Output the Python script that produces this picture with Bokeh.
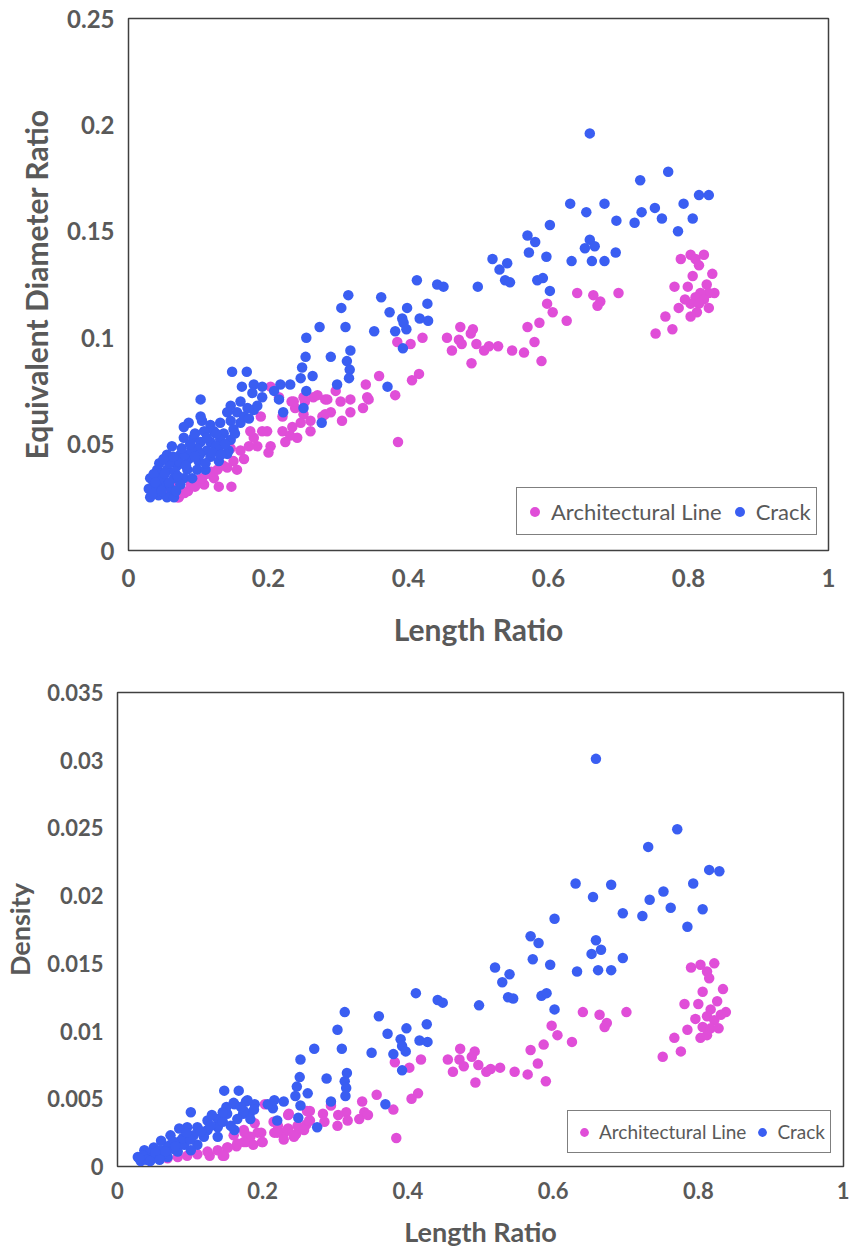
from bokeh.plotting import figure
from bokeh.models import FixedTicker, CustomJSTickFormatter, Range1d, Legend
from bokeh.embed import file_html
from bokeh.resources import INLINE

# ---------------- data: Equivalent Diameter Ratio vs Length Ratio ----------------
arch_len_top = [0.789,0.803,0.810,0.815,0.822,0.834,0.806,0.826,0.780,0.799,0.837,0.829,0.817,0.810,0.822,0.803,0.815,0.829,0.812,0.803,0.795,0.786,0.767,0.777,0.753,
0.641,0.664,0.674,0.670,0.700,0.598,0.606,0.587,0.570,0.626,0.580,0.548,0.565,0.590,0.528,0.515,0.508,0.497,0.492,0.489,0.474,0.476,0.490,0.455,0.472,0.462,
0.420,0.403,0.384,0.415,0.405,0.358,0.339,0.381,0.341,0.343,0.335,0.317,0.303,0.317,0.305,0.289,0.277,0.385,0.296,0.281,0.264,0.252,0.233,0.238,0.250,0.260,
0.260,0.246,0.234,0.220,0.224,0.220,0.203,0.200,0.184,0.179,0.198,0.189,0.203,0.215,0.236,0.250,0.270,0.284,0.281,0.241,0.231,0.129,0.147,0.072,0.131,0.146,
0.160,0.174,0.191,0.172,0.165,0.150,0.141,0.155,0.127,0.112,0.122,0.098,0.108,0.089,0.074,0.070,0.060,0.050,
0.085,0.095,0.105,0.118,0.135,0.080,0.066]
arch_diam_top = [0.137,0.139,0.137,0.134,0.139,0.130,0.129,0.125,0.124,0.124,0.121,0.121,0.121,0.119,0.118,0.116,0.116,0.114,0.112,0.110,0.118,0.114,0.110,0.104,0.102,
0.121,0.120,0.117,0.115,0.121,0.116,0.112,0.107,0.105,0.108,0.098,0.094,0.093,0.089,0.096,0.096,0.094,0.097,0.104,0.102,0.105,0.097,0.088,0.100,0.099,0.094,
0.100,0.097,0.098,0.083,0.080,0.082,0.078,0.073,0.072,0.071,0.067,0.071,0.070,0.065,0.061,0.065,0.063,0.051,0.075,0.071,0.072,0.070,0.070,0.067,0.064,0.061,
0.056,0.060,0.058,0.056,0.051,0.063,0.049,0.046,0.049,0.053,0.056,0.063,0.077,0.072,0.070,0.072,0.073,0.071,0.064,0.053,0.054,0.030,0.030,0.025,0.050,0.048,
0.047,0.056,0.056,0.049,0.043,0.042,0.039,0.038,0.038,0.036,0.034,0.033,0.031,0.031,0.029,0.025,0.026,0.027,
0.028,0.030,0.034,0.037,0.040,0.027,0.030]

crack_len_top = [0.659,0.771,0.731,0.815,0.829,0.631,0.680,0.793,0.654,0.752,0.733,0.762,0.697,0.723,0.806,0.785,0.602,0.570,0.581,0.572,0.597,0.659,0.652,0.666,
0.696,0.633,0.662,0.680,0.520,0.541,0.530,0.538,0.545,0.584,0.592,0.602,0.499,0.314,0.361,0.412,0.441,0.450,0.427,0.304,0.373,0.398,0.391,0.393,0.397,0.416,
0.428,0.381,0.351,0.392,0.310,0.273,0.254,0.317,0.312,0.316,0.315,0.289,0.253,0.248,0.263,0.246,0.254,0.298,0.370,0.250,0.276,0.221,0.215,0.208,0.217,0.231,
0.148,0.169,0.162,0.179,0.191,0.191,0.177,0.103,0.146,0.160,0.170,0.155,0.141,0.179,0.184,0.086,0.105,0.117,0.131,0.146,0.150,0.122,0.136,0.079,0.093,0.103,
0.117,0.131,0.146,0.143,0.129,0.112,0.098,0.062,0.055,0.074,0.086,0.100,0.117,0.129,0.070,0.084,0.098,0.110,0.041,0.055,0.048,0.065,0.079,0.091,0.031,0.036,
0.050,0.029,0.043,0.060,0.074,0.031,0.055,0.065,0.060,0.103,0.141,0.079,
0.040,0.045,0.052,0.058,0.066,0.072,0.080,0.090,0.095,0.108,0.112,0.125,0.138,0.152,0.160,0.165,0.172,0.035,0.047,0.068,0.058,0.064,0.076,0.088,0.102,0.120,
0.132,0.036,0.044,0.050,0.038,0.070,0.082,0.095,0.110,0.125]
crack_diam_top = [0.196,0.178,0.174,0.167,0.167,0.163,0.163,0.163,0.159,0.161,0.159,0.156,0.155,0.154,0.156,0.150,0.153,0.148,0.145,0.140,0.138,0.146,0.142,0.143,
0.140,0.136,0.136,0.136,0.137,0.135,0.132,0.127,0.126,0.127,0.128,0.122,0.124,0.120,0.119,0.127,0.125,0.124,0.116,0.114,0.112,0.114,0.109,0.107,0.104,0.109,
0.108,0.103,0.103,0.095,0.105,0.105,0.100,0.094,0.089,0.085,0.081,0.091,0.091,0.086,0.082,0.081,0.075,0.078,0.077,0.067,0.060,0.065,0.071,0.075,0.078,0.078,
0.084,0.084,0.077,0.078,0.077,0.072,0.074,0.071,0.068,0.070,0.067,0.065,0.065,0.066,0.068,0.060,0.061,0.059,0.060,0.061,0.057,0.056,0.055,0.053,0.053,0.051,
0.051,0.052,0.052,0.047,0.047,0.047,0.048,0.049,0.045,0.045,0.043,0.042,0.044,0.042,0.040,0.038,0.038,0.038,0.038,0.038,0.034,0.034,0.034,0.034,0.034,0.031,
0.030,0.029,0.026,0.029,0.031,0.025,0.025,0.025,0.0415,0.063,0.0454,0.058,
0.030,0.034,0.036,0.032,0.037,0.042,0.045,0.047,0.055,0.056,0.053,0.049,0.050,0.055,0.060,0.063,0.062,0.027,0.028,0.028,0.041,0.044,0.048,0.050,0.045,0.046,
0.045,0.036,0.041,0.043,0.032,0.035,0.040,0.044,0.041,0.055]

# ---------------- data: Density vs Length Ratio ----------------
arch_len_bot = [0.790,0.803,0.812,0.822,0.815,0.834,0.806,0.826,0.781,0.800,0.838,0.831,0.817,0.812,0.822,0.796,0.806,0.817,0.828,0.785,0.767,0.803,0.812,0.751,0.776,
0.641,0.664,0.674,0.671,0.701,0.598,0.606,0.626,0.587,0.569,0.579,0.590,0.565,0.547,0.527,0.514,0.508,0.497,0.493,0.472,0.492,0.488,0.455,0.471,0.477,0.462,
0.418,0.402,0.382,0.414,0.405,0.380,0.384,0.357,0.337,0.340,0.333,0.345,0.315,0.317,0.304,0.303,0.294,0.283,0.285,0.265,0.265,0.260,0.235,0.235,0.221,0.216,
0.230,0.246,0.203,0.189,0.198,0.200,0.175,0.177,0.187,0.164,0.152,0.145,0.127,0.193,0.199,0.183,0.174,0.165,0.151,0.138,0.147,0.124,0.110,0.096,0.083,0.069,
0.174,0.160,0.215,0.236,0.220,0.234,0.248,0.261,0.264,0.257,0.243,0.229]
arch_dens_bot = [0.0147,0.0149,0.0144,0.0150,0.0139,0.0131,0.0129,0.0122,0.0120,0.0120,0.0114,0.0112,0.0116,0.0111,0.0108,0.0109,0.0103,0.0102,0.0102,0.0101,0.0095,0.0095,0.0097,0.0081,0.0085,
0.0114,0.0112,0.0106,0.0103,0.0114,0.0104,0.0097,0.0092,0.0090,0.0086,0.0076,0.0063,0.0068,0.0070,0.0073,0.0072,0.0070,0.0075,0.0062,0.0087,0.0085,0.0081,0.0079,0.0079,0.0074,0.0070,
0.0079,0.0073,0.0077,0.0054,0.0050,0.0042,0.0021,0.0053,0.0048,0.0040,0.0035,0.0038,0.0040,0.0034,0.0038,0.0030,0.0045,0.0039,0.0033,0.0041,0.0034,0.0031,0.0038,0.0028,0.0030,0.0025,
0.0025,0.0024,0.0046,0.0032,0.0025,0.0018,0.0025,0.0018,0.0016,0.0015,0.0014,0.0008,0.0008,0.0025,0.0018,0.0022,0.0018,0.0017,0.0014,0.0012,0.0008,0.0011,0.0009,0.0008,0.0007,0.0006,
0.0027,0.0023,0.0033,0.0039,0.0025,0.0027,0.0030,0.0041,0.0034,0.0027,0.0022,0.0020]

crack_len_bot = [0.659,0.771,0.731,0.815,0.829,0.631,0.680,0.793,0.655,0.733,0.752,0.762,0.696,0.723,0.806,0.785,0.602,0.569,0.580,0.572,0.596,0.659,0.653,0.666,
0.696,0.633,0.662,0.680,0.520,0.540,0.530,0.538,0.545,0.584,0.591,0.602,0.498,0.411,0.441,0.448,0.426,0.398,0.372,0.390,0.392,0.397,0.416,0.427,0.380,0.392,
0.369,0.313,0.360,0.303,0.271,0.252,0.309,0.350,0.316,0.313,0.315,0.314,0.288,0.251,0.247,0.262,0.245,0.252,0.249,0.294,0.275,0.220,0.214,0.207,0.216,0.229,
0.147,0.167,0.161,0.177,0.189,0.182,0.173,0.161,0.101,0.160,0.179,0.188,0.174,0.151,0.138,0.124,0.165,0.183,0.156,0.138,0.124,0.110,0.096,0.085,0.073,0.087,
0.105,0.119,0.138,0.060,0.073,0.092,0.110,0.050,0.064,0.083,0.101,0.037,0.028,0.041,0.055,0.069,0.032,
0.045,0.058,0.070,0.078,0.090,0.100,0.115,0.128,0.145,0.150,0.170,0.035,0.048,0.062,0.077,0.095,0.130,0.145,
0.040,0.052,0.066,0.080,0.030,0.045,0.058]
crack_dens_bot = [0.0301,0.0249,0.0236,0.0219,0.0218,0.0209,0.0208,0.0209,0.0199,0.0197,0.0203,0.0191,0.0187,0.0185,0.0190,0.0177,0.0183,0.0170,0.0165,0.0153,0.0149,0.0167,0.0157,0.0160,
0.0154,0.0144,0.0145,0.0145,0.0147,0.0142,0.0136,0.0125,0.0124,0.0126,0.0128,0.0116,0.0119,0.0128,0.0123,0.0121,0.0105,0.0102,0.0098,0.0094,0.0089,0.0085,0.0093,0.0092,0.0083,0.0071,
0.0046,0.0114,0.0111,0.0101,0.0087,0.0079,0.0087,0.0084,0.0069,0.0063,0.0058,0.0052,0.0065,0.0066,0.0059,0.0054,0.0052,0.0045,0.0036,0.0048,0.0029,0.0034,0.0043,0.0046,0.0049,0.0048,
0.0056,0.0056,0.0046,0.0048,0.0046,0.0039,0.0039,0.0027,0.0040,0.0047,0.0049,0.0042,0.0041,0.0039,0.0035,0.0034,0.0035,0.0035,0.0030,0.0029,0.0027,0.0029,0.0029,0.0028,0.0023,0.0019,
0.0023,0.0022,0.0022,0.0019,0.0016,0.0016,0.0016,0.0014,0.0012,0.0011,0.0012,0.0012,0.0007,0.0007,0.0008,0.0007,0.0004,
0.0010,0.0012,0.0015,0.0018,0.0021,0.0020,0.0026,0.0030,0.0033,0.0044,0.0044,0.0008,0.0006,0.0009,0.0013,0.0025,0.0038,0.0040,
0.0005,0.0010,0.0011,0.0015,0.0006,0.0004,0.0005]

x_ticks = [0, 0.2, 0.4, 0.6, 0.8, 1.0]
y_ticks_top = [0, 0.05, 0.1, 0.15, 0.2, 0.25]
y_ticks_bot = [0, 0.005, 0.01, 0.015, 0.02, 0.025, 0.03, 0.035]

PINK = "#E04ED8"
BLUE = "#3A5EF2"
GRAY = "#595959"
FONT = "Lato"

fmt = CustomJSTickFormatter(code="return String(Math.round(tick*10000)/10000);")


def make_fig(xs_a, ys_a, xs_c, ys_c, y_ticks, y_max, ylabel, w, h, bl, br, bt, bb,
             tick_size, title_size, legend_size, marker, legend_loc, legend_glyph, legend_pad,
             legend_label_h, x_title_standoff, y_title_standoff, x_lab_standoff, y_lab_standoff):
    p = figure(width=w, height=h, output_backend="svg", toolbar_location=None,
               x_range=Range1d(0, 1), y_range=Range1d(0, y_max),
               min_border_left=bl, min_border_right=br, min_border_top=bt, min_border_bottom=bb)
    p.xgrid.visible = False
    p.ygrid.visible = False
    p.outline_line_color = "#404040"
    p.outline_line_width = 1.5
    p.background_fill_color = "white"
    p.border_fill_color = "white"

    r1 = p.scatter(xs_a, ys_a, size=marker, color=PINK, line_color=None)
    r2 = p.scatter(xs_c, ys_c, size=marker, color=BLUE, line_color=None)

    for ax, ticks in ((p.xaxis[0], x_ticks), (p.yaxis[0], y_ticks)):
        ax.ticker = FixedTicker(ticks=ticks)
        ax.formatter = fmt
        ax.axis_line_color = None
        ax.major_tick_line_color = None
        ax.minor_tick_line_color = None
        ax.major_tick_out = 0
        ax.major_tick_in = 0
        ax.major_label_text_font = FONT
        ax.major_label_text_font_style = "bold"
        ax.major_label_text_font_size = f"{tick_size}px"
        ax.major_label_text_color = GRAY
        ax.axis_label_text_font = FONT
        ax.axis_label_text_font_style = "bold"
        ax.axis_label_text_font_size = f"{title_size}px"
        ax.axis_label_text_color = GRAY
    p.xaxis.axis_label = "Length Ratio"
    p.yaxis.axis_label = ylabel
    p.xaxis.major_label_standoff = x_lab_standoff
    p.yaxis.major_label_standoff = y_lab_standoff
    p.xaxis.axis_label_standoff = x_title_standoff
    p.yaxis.axis_label_standoff = y_title_standoff

    legend = Legend(items=[("Architectural Line", [r1]), ("Crack", [r2])],
                    orientation="horizontal", location=legend_loc)
    legend.label_text_font = FONT
    legend.label_text_font_size = f"{legend_size}px"
    legend.label_text_color = GRAY
    legend.border_line_color = "black"
    legend.border_line_width = 1
    legend.background_fill_alpha = 1
    legend.glyph_width = legend_glyph
    legend.glyph_height = legend_glyph
    legend.label_height = legend_label_h
    legend.label_standoff = 4
    legend.spacing = 5
    legend.padding = legend_pad
    legend.margin = 0
    p.add_layout(legend, "center")
    return p


p1 = make_fig(arch_len_top, arch_diam_top, crack_len_top, crack_diam_top, y_ticks_top, 0.25,
              "Equivalent Diameter Ratio", 849, 665, 128, 21, 18, 115,
              24, 30, 22, 10.5, (388, 15), 25, 5, 36, 21, 10, 18, 14)
p2 = make_fig(arch_len_bot, arch_dens_bot, crack_len_bot, crack_dens_bot, y_ticks_bot, 0.035,
              "Density", 849, 587, 116, 6, 27, 86,
              22, 27, 19, 10.5, (450, 13), 22, 5, 31, 13, 8, 15, 14)

open("out.html", "w").write(file_html([p1, p2], INLINE))
